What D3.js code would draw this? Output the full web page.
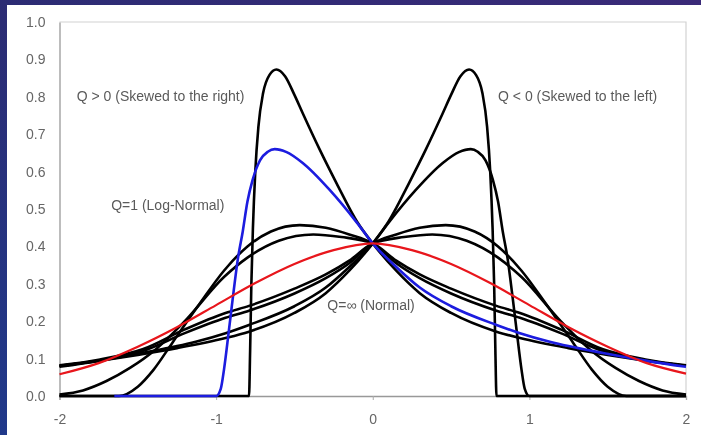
<!DOCTYPE html>
<html>
<head>
<meta charset="utf-8">
<script src="https://cdnjs.cloudflare.com/ajax/libs/d3/7.8.5/d3.min.js"></script>
<style>
  html, body { margin: 0; padding: 0; }
  body {
    width: 701px; height: 435px; overflow: hidden;
    background: linear-gradient(200deg, #3a2a78 0%, #2b2c74 40%, #20398a 100%);
  }
  .tick-label { font-family: "Liberation Sans", Arial, sans-serif; font-size: 14px; fill: #666; }
  .note { font-family: "Liberation Sans", Arial, sans-serif; font-size: 14px; fill: #5a5a5a; }
</style>
</head>
<body>
<div id="chart"></div>
<script>
// tick labels
let xTicks = [-2, -1, 0, 1, 2];
let yTicks = [0, 0.1, 0.2, 0.3, 0.4, 0.5, 0.6, 0.7, 0.8, 0.9, 1.0];

// curves, [x, density]
let normalCurve = [[-2,0.058],[-1.75,0.088],[-1.5,0.132],[-1.25,0.184],[-1,0.243],[-0.75,0.302],[-0.5,0.353],[-0.25,0.39],[0,0.408],
  [0.25,0.39],[0.5,0.353],[0.75,0.302],[1,0.243],[1.25,0.184],[1.5,0.132],[1.75,0.088],[2,0.06]];

let logNormalCurve = [[-1.65,0],[-1.0,0],[-0.97,0.02],[-0.95,0.07],[-0.92,0.17],[-0.895,0.257],[-0.86,0.37],[-0.83,0.44],[-0.8,0.52],
  [-0.767,0.578],[-0.72,0.63],[-0.67,0.653],[-0.626,0.66],[-0.55,0.652],[-0.447,0.623],[-0.275,0.551],[-0.1,0.463],[0,0.408],
  [0.15,0.345],[0.3,0.29],[0.5,0.24],[0.79,0.19],[0.94,0.168],[1.13,0.145],[1.47,0.115],[1.75,0.094],[2,0.078]];

let logNormalMirror = [[-2,0.078],[-1.75,0.094],[-1.47,0.115],[-1.13,0.145],[-0.94,0.168],[-0.79,0.19],[-0.5,0.24],[-0.3,0.29],
  [-0.15,0.345],[0,0.408],[0.1,0.463],[0.275,0.551],[0.447,0.623],[0.55,0.652],[0.626,0.66],[0.67,0.653],[0.72,0.63],[0.767,0.578],
  [0.8,0.52],[0.83,0.44],[0.86,0.37],[0.895,0.257],[0.92,0.17],[0.95,0.07],[0.97,0.02],[1.0,0],[2,0]];

let tallRight = [[-2,0],[-0.79,0],[-0.783,0.12],[-0.775,0.3],[-0.765,0.45],[-0.75,0.6],[-0.73,0.72],[-0.7,0.81],[-0.66,0.858],
  [-0.615,0.873],[-0.56,0.855],[-0.5,0.805],[-0.447,0.756],[-0.34,0.66],[-0.23,0.568],[-0.1,0.466],[0,0.408],[0.15,0.335],
  [0.3,0.275],[0.5,0.222],[0.79,0.172],[0.94,0.155],[1.25,0.128],[1.5,0.11],[1.75,0.094],[2,0.08]];

let tallLeft = [[-2,0.08],[-1.75,0.094],[-1.5,0.11],[-1.25,0.128],[-0.94,0.155],[-0.79,0.172],[-0.5,0.222],[-0.3,0.275],
  [-0.15,0.335],[0,0.408],[0.1,0.466],[0.23,0.568],[0.34,0.66],[0.447,0.756],[0.5,0.805],[0.56,0.855],[0.615,0.873],[0.66,0.858],
  [0.7,0.81],[0.73,0.72],[0.75,0.6],[0.765,0.45],[0.775,0.3],[0.783,0.12],[0.79,0],[2,0]];

let midRight = [[-2,0],[-1.62,0],[-1.5,0.025],[-1.4,0.07],[-1.28,0.142],[-1.1,0.25],[-0.95,0.335],[-0.8,0.4],[-0.65,0.44],
  [-0.466,0.457],[-0.3,0.45],[-0.15,0.432],[0,0.408],[0.15,0.355],[0.3,0.315],[0.5,0.274],[0.79,0.228],[0.94,0.209],[1.2,0.168],
  [1.47,0.12],[1.75,0.095],[2,0.081]];

let midLeft = [[-2,0.081],[-1.75,0.095],[-1.47,0.12],[-1.2,0.168],[-0.94,0.209],[-0.79,0.228],[-0.5,0.274],[-0.3,0.315],[-0.15,0.355],
  [0,0.408],[0.15,0.432],[0.3,0.45],[0.466,0.457],[0.65,0.44],[0.8,0.4],[0.95,0.335],[1.1,0.25],[1.28,0.142],[1.4,0.07],
  [1.5,0.025],[1.62,0],[2,0]];

let lowRight = [[-2,0.004],[-1.85,0.015],[-1.7,0.04],[-1.55,0.075],[-1.39,0.123],[-1.2,0.2],[-0.95,0.318],[-0.8,0.37],[-0.6,0.415],
  [-0.38,0.432],[-0.2,0.425],[0,0.408],[0.15,0.362],[0.3,0.325],[0.5,0.287],[0.79,0.241],[0.94,0.222],[1.2,0.178],[1.47,0.125],
  [1.75,0.097],[2,0.082]];

let lowLeft = [[-2,0.082],[-1.75,0.097],[-1.47,0.125],[-1.2,0.178],[-0.94,0.222],[-0.79,0.241],[-0.5,0.287],[-0.3,0.325],[-0.15,0.362],
  [0,0.408],[0.2,0.425],[0.38,0.432],[0.6,0.415],[0.8,0.37],[0.95,0.318],[1.2,0.2],[1.39,0.123],[1.55,0.075],[1.7,0.04],
  [1.85,0.015],[2,0.004]];

let blackCurves = [tallRight, tallLeft, logNormalMirror, midRight, midLeft, lowRight, lowLeft];

let width = 701, height = 435;

let svg = d3.select("#chart").append("svg")
  .attr("width", width)
  .attr("height", height);

// the source picture is a soft screenshot, so blur everything a touch
svg.append("defs").append("filter")
  .attr("id", "soft")
  .append("feGaussianBlur")
  .attr("stdDeviation", 0.45);

let g = svg.append("g").attr("filter", "url(#soft)");

// white slide panel
g.append("rect")
  .attr("x", 7).attr("y", 5)
  .attr("width", width - 7).attr("height", height - 5)
  .attr("fill", "#ffffff");

let x = d3.scaleLinear().domain([-2, 2]).range([59.5, 686]);
let y = d3.scaleLinear().domain([0, 1]).range([396, 22]);

// frame top and right
g.append("path")
  .attr("d", "M" + x(-2) + "," + y(1) + "H" + x(2) + "V" + y(0))
  .attr("fill", "none")
  .attr("stroke", "#d2d2d2")
  .attr("stroke-width", 1.2);

// axes
let xAxis = g.append("g")
  .attr("transform", "translate(0," + y(0) + ")")
  .call(d3.axisBottom(x).tickValues(xTicks).tickSize(4).tickFormat(function(d) { return String(d); }));
let yAxis = g.append("g")
  .attr("transform", "translate(" + x(-2) + ",0)")
  .call(d3.axisLeft(y).tickValues(yTicks).tickSize(0).tickPadding(14).tickFormat(d3.format(".1f")));

[xAxis, yAxis].forEach(function(a) {
  a.select(".domain").attr("stroke", "#999").attr("stroke-width", 1.3);
  a.selectAll(".tick line").attr("stroke", "#aaa");
  a.selectAll("text").attr("class", "tick-label").attr("font-size", null).attr("font-family", null).attr("fill", null);
});
xAxis.selectAll("text").attr("dy", "1.5em");

let line = d3.line()
  .x(function(d) { return x(d[0]); })
  .y(function(d) { return y(d[1]); })
  .curve(d3.curveMonotoneX);

g.selectAll(".black-curve")
  .data(blackCurves).enter()
  .append("path")
  .attr("class", "black-curve")
  .attr("d", line)
  .attr("fill", "none")
  .attr("stroke", "#000")
  .attr("stroke-width", 2.6)
  .attr("stroke-linejoin", "round");

g.append("path")
  .datum(logNormalCurve)
  .attr("d", line)
  .attr("fill", "none")
  .attr("stroke", "#1a1adf")
  .attr("stroke-width", 2.6);

g.append("path")
  .datum(normalCurve)
  .attr("d", line)
  .attr("fill", "none")
  .attr("stroke", "#e8141a")
  .attr("stroke-width", 2.2);

// annotations
let notes = [
  {text: "Q > 0 (Skewed to the right)", x: -1.89, y: 0.79},
  {text: "Q < 0 (Skewed to the left)", x: 0.8, y: 0.79},
  {text: "Q=1 (Log-Normal)", x: -1.67, y: 0.497},
  {text: "Q=\u221E (Normal)", x: -0.29, y: 0.23}
];
g.selectAll(".note")
  .data(notes).enter()
  .append("text")
  .attr("class", "note")
  .attr("x", function(d) { return x(d.x); })
  .attr("y", function(d) { return y(d.y); })
  .text(function(d) { return d.text; });
</script>
</body>
</html>
